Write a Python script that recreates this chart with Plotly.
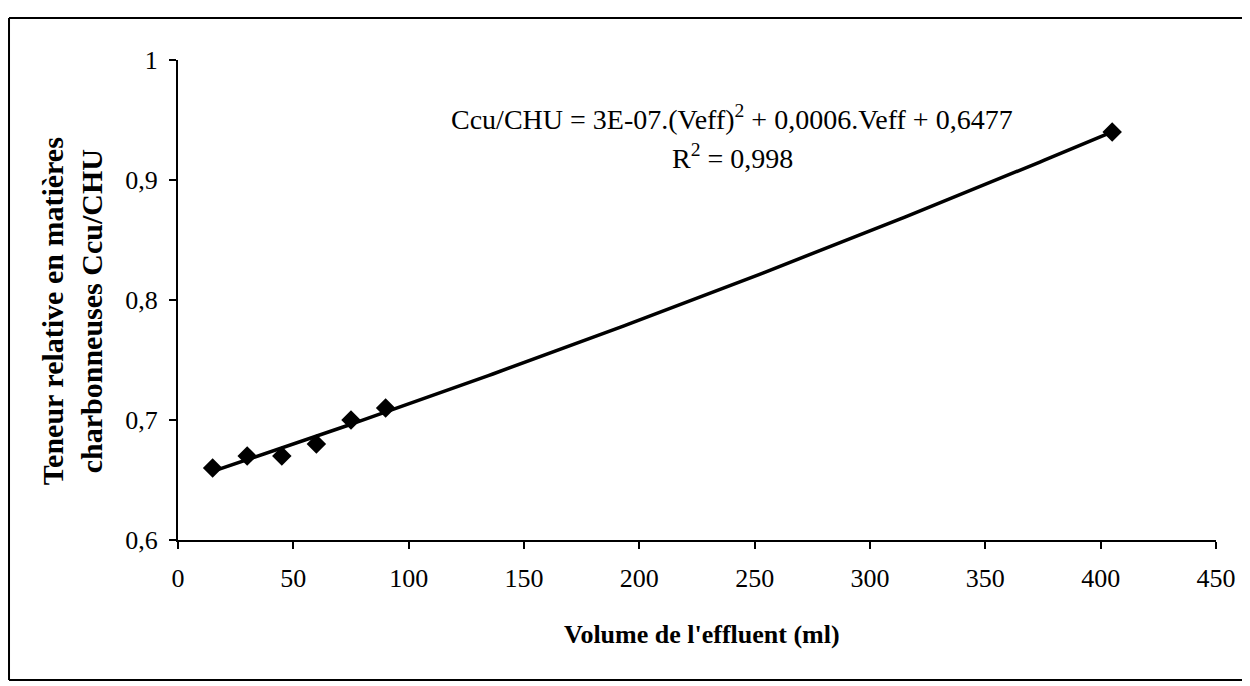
import numpy as np
import plotly.graph_objects as go

# Data
volume_ml = [15, 30, 45, 60, 75, 90, 405]
ccu_chu = [0.66, 0.67, 0.67, 0.68, 0.70, 0.71, 0.94]

x_ticks = [0, 50, 100, 150, 200, 250, 300, 350, 400, 450]
y_ticks = [0.6, 0.7, 0.8, 0.9, 1.0]

equation_text = "Ccu/CHU = 3E-07.(Veff)<sup>2</sup> + 0,0006.Veff + 0,6477"
r2_text = "R<sup>2</sup> = 0,998"

# Polynomial (order 2) trendline fitted from the data, as the spreadsheet did
coef = np.polyfit(volume_ml, ccu_chu, 2)
trend_x = np.linspace(min(volume_ml), max(volume_ml), 200)
trend_y = np.polyval(coef, trend_x)

FONT = "Liberation Serif"

fig = go.Figure()
fig.add_trace(go.Scatter(x=trend_x, y=trend_y, mode="lines",
                         line=dict(color="black", width=3.5), hoverinfo="skip"))
fig.add_trace(go.Scatter(x=volume_ml, y=ccu_chu, mode="markers",
                         marker=dict(symbol="diamond", size=15, color="black")))

fig.update_layout(
    width=1250, height=686,
    margin=dict(l=170, r=42, t=52, b=154),
    paper_bgcolor="white", plot_bgcolor="white",
    showlegend=False,
    separators=", ",
    font=dict(family=FONT, color="black", size=24),
    xaxis=dict(range=[0, 450], tickvals=x_ticks, showgrid=False, zeroline=False,
               showline=True, linecolor="black", linewidth=2,
               ticks="outside", ticklen=7, tickwidth=1.5, tickcolor="black",
               ticklabelstandoff=7,
               tickfont=dict(family=FONT, size=26)),
    yaxis=dict(range=[0.6, 1.0], tickvals=y_ticks, showgrid=False, zeroline=False,
               showline=True, linecolor="black", linewidth=2,
               ticks="outside", ticklen=7, tickwidth=1.5, tickcolor="black",
               ticklabelstandoff=6,
               tickfont=dict(family=FONT, size=26)),
)

fig.add_annotation(xref="paper", yref="paper", x=0.505, y=-0.196,
                   text="<b>Volume de l'effluent (ml)</b>", showarrow=False,
                   font=dict(family=FONT, size=26), xanchor="center", yanchor="middle")
fig.add_annotation(xref="paper", yref="paper", x=-0.102, y=0.477,
                   text="<b>Teneur relative en matières<br>charbonneuses Ccu/CHU</b>",
                   showarrow=False, textangle=-90,
                   font=dict(family=FONT, size=30), xanchor="center", yanchor="middle")
fig.add_annotation(xref="paper", yref="paper", x=0.534, y=0.881,
                   text=equation_text, showarrow=False,
                   font=dict(family=FONT, size=28), xanchor="center", yanchor="middle")
fig.add_annotation(xref="paper", yref="paper", x=0.534, y=0.798,
                   text=r2_text, showarrow=False,
                   font=dict(family=FONT, size=28), xanchor="center", yanchor="middle")

# Outer chart frame (top, left, bottom edges)
frame_x0, frame_x1, frame_y0, frame_y1 = -0.1628, 1.0405, -0.2917, 1.0875
for x0, y0, x1, y1 in [(frame_x0, frame_y1, frame_x1, frame_y1),
                       (frame_x0, frame_y0, frame_x0, frame_y1),
                       (frame_x0, frame_y0, frame_x1, frame_y0)]:
    fig.add_shape(type="line", xref="paper", yref="paper",
                  x0=x0, y0=y0, x1=x1, y1=y1,
                  line=dict(color="black", width=2))

fig.write_html("out.html")
